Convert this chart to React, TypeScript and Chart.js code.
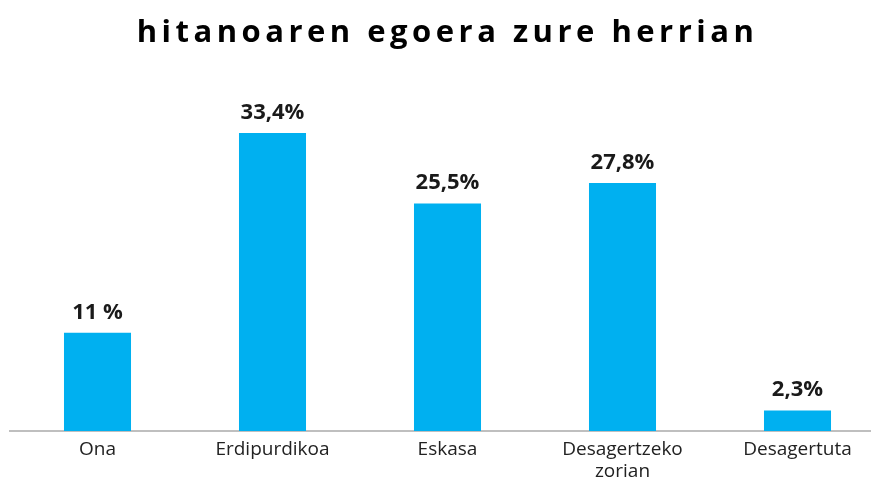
import React, { useEffect, useRef } from "react";
import { Chart, registerables } from "chart.js";

Chart.register(...registerables);

const titleText = "hitanoaren egoera zure herrian";
const categories: (string | string[])[] = ["Ona", "Erdipurdikoa", "Eskasa", ["Desagertzeko", "zorian"], "Desagertuta"];
const values = [11, 33.4, 25.5, 27.8, 2.3];
const valueLabels = ["11 %", "33,4%", "25,5%", "27,8%", "2,3%"];

const labelPlugin = {
  id: "valueLabels",
  afterDatasetsDraw(chart: any) {
    const ctx = chart.ctx;
    const meta = chart.getDatasetMeta(0);
    ctx.save();
    ctx.font = "bold 22px 'Open Sans'";
    ctx.fillStyle = "#1a1a1a";
    ctx.textAlign = "center";
    ctx.textBaseline = "alphabetic";
    meta.data.forEach((bar: any, i: number) => {
      ctx.fillText(valueLabels[i], bar.x, bar.y - 14);
    });
    ctx.restore();
  },
};

export default function App() {
  const ref = useRef<HTMLCanvasElement>(null);
  useEffect(() => {
    if (!ref.current) return;
    const chart = new Chart(ref.current, {
      type: "bar",
      data: {
        labels: categories,
        datasets: [
          {
            data: values,
            backgroundColor: "#00B0F0",
            barPercentage: 0.383,
            categoryPercentage: 1,
          },
        ],
      },
      options: {
        animation: false,
        responsive: true,
        maintainAspectRatio: false,
        layout: { padding: { top: 74, left: 10, right: 0, bottom: 0 } },
        plugins: { legend: { display: false }, tooltip: { enabled: false }, title: { display: false } },
        scales: {
          y: { display: false, min: 0, max: 40 },
          x: {
            grid: { display: false },
            border: { display: true, color: "#bfbfbf", width: 2 },
            ticks: {
              color: "#222",
              font: { family: "'Open Sans'", size: 19, lineHeight: 1.15 },
              padding: 0,
              maxRotation: 0,
              autoSkip: false,
            },
            afterFit: (scale: any) => {
              scale.height = 48;
            },
          },
        },
      },
      plugins: [labelPlugin],
    });
    return () => chart.destroy();
  }, []);

  return (
    <div style={{ position: "fixed", left: 0, top: 0, width: 871, height: 479, overflow: "hidden", background: "#fff" }}>
      <div
        style={{
          position: "absolute",
          left: 0,
          top: 10,
          width: 895,
          textAlign: "center",
          fontFamily: "'Open Sans'",
          fontWeight: 700,
          fontSize: 31,
          letterSpacing: 4.5,
          color: "#000",
          lineHeight: "40px",
          zIndex: 1,
        }}
      >
        {titleText}
      </div>
      <div style={{ position: "absolute", left: 0, top: 0, width: 885, height: 479 }}>
        <canvas ref={ref} />
      </div>
    </div>
  );
}
